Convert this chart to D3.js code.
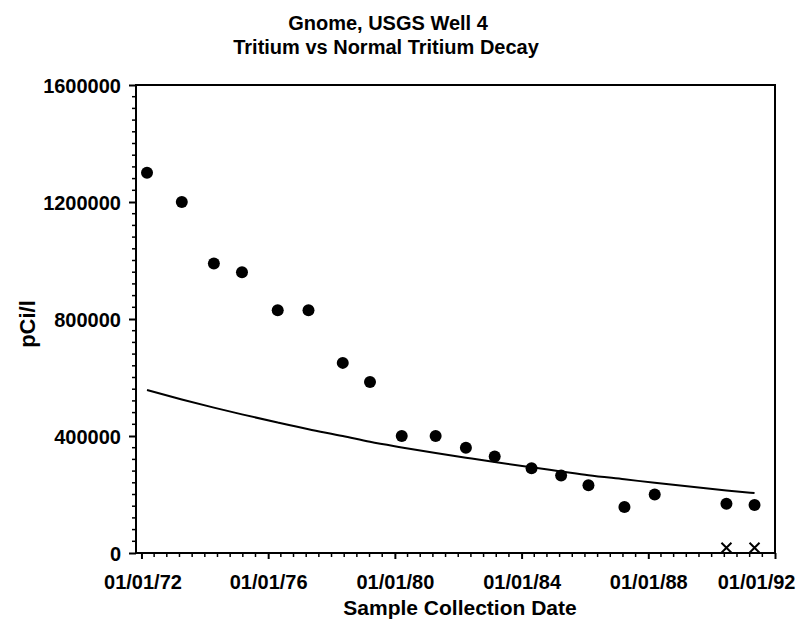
<!DOCTYPE html>
<html>
<head>
<meta charset="utf-8">
<script src="https://cdn.jsdelivr.net/npm/d3@7"></script>
<style>
    body { margin: 0; background: #fff; }
    text { font-family: "Liberation Sans", Arial, sans-serif; font-weight: bold; fill: #000; }
</style>
</head>
<body>
<div id="chart"></div>
<script>
const CANVAS_WIDTH = 800;
const CANVAS_HEIGHT = 624;
const LEFT = 136, RIGHT = 775, TOP = 85, BOTTOM = 553;

// sample dates and measured tritium (pCi/l)
const sampleDates = ["1972-03-05", "1973-04-10", "1974-04-15", "1975-03-05", "1976-04-20",
    "1977-04-10", "1978-05-10", "1979-03-20", "1980-03-20", "1981-04-15", "1982-03-30",
    "1983-02-25", "1984-04-25", "1985-04-01", "1986-02-10", "1987-04-01", "1988-03-15",
    "1990-06-20", "1991-05-10"];
const tritium = [1300000, 1200000, 990000, 960000, 830000, 830000, 650000, 585000,
    400000, 400000, 360000, 330000, 290000, 265000, 232000, 157000, 200000, 168000, 164000];
// normal decay curve values at the same dates
const decay = [557000, 525000, 497000, 474000, 446000, 423000, 400000, 380000, 361000,
    342000, 326000, 311000, 293000, 279000, 266000, 252000, 240000, 214000, 205000];
// second set of samples drawn with x markers
const lowDates = ["1990-06-20", "1991-05-10"];
const lowValues = [18000, 18000];

const yTicks = [0, 400000, 800000, 1200000, 1600000];
const xTickYears = [1972, 1976, 1980, 1984, 1988, 1992];

const parse = d3.timeParse("%Y-%m-%d");
const fmt = d3.timeFormat("%m/%d/%y");

var svg = d3.select("#chart")
    .append("svg")
    .attr("width", CANVAS_WIDTH)
    .attr("height", CANVAS_HEIGHT);

var x_scale = d3.scaleTime()
    .domain([new Date(1971, 9, 30), new Date(1992, 0, 1)])
    .range([LEFT, RIGHT]);

var y_scale = d3.scaleLinear()
    .domain([0, 1600000])
    .range([BOTTOM, TOP]);

// titles
svg.append("text")
    .attr("x", 388).attr("y", 30)
    .attr("text-anchor", "middle")
    .style("font-size", "20px")
    .text("Gnome, USGS Well 4");
svg.append("text")
    .attr("x", 386).attr("y", 54)
    .attr("text-anchor", "middle")
    .style("font-size", "20px")
    .text("Tritium vs Normal Tritium Decay");

// frame
svg.append("rect")
    .attr("x", LEFT).attr("y", TOP)
    .attr("width", RIGHT - LEFT).attr("height", BOTTOM - TOP)
    .attr("fill", "none").attr("stroke", "#000").attr("stroke-width", 2);

// y axis: major + minor ticks
var yMinor = d3.range(0, 1600001, 40000).filter((v) => v % 400000 !== 0);
svg.append("g")
    .selectAll("line")
    .data(yMinor)
    .enter()
    .append("line")
    .attr("x1", LEFT - 4).attr("x2", LEFT)
    .attr("y1", (d) => y_scale(d)).attr("y2", (d) => y_scale(d))
    .attr("stroke", "#000").attr("stroke-width", 1.5);

var yAxis = d3.axisLeft(y_scale)
    .tickValues(yTicks)
    .tickFormat(d3.format("d"))
    .tickSize(7)
    .tickPadding(8);
var gy = svg.append("g")
    .attr("transform", "translate(" + LEFT + ",0)")
    .call(yAxis);
gy.select(".domain").remove();
gy.selectAll(".tick line").attr("stroke-width", 2);
gy.selectAll(".tick text")
    .style("font-size", "20px")
    .style("font-family", "Liberation Sans, Arial, sans-serif")
    .style("font-weight", "bold")
    .attr("dy", "0.36em");

// x axis: major + minor ticks (9 minor between majors)
var xMajor = xTickYears.map((y) => new Date(y, 0, 1));
var xMinor = [];
for (var i = 0; i < xMajor.length - 1; i++) {
    var a = x_scale(xMajor[i]), b = x_scale(xMajor[i + 1]);
    for (var k = 1; k < 10; k++) xMinor.push(x_scale.invert(a + (b - a) * k / 10));
}
svg.append("g")
    .selectAll("line")
    .data(xMinor)
    .enter()
    .append("line")
    .attr("x1", (d) => x_scale(d)).attr("x2", (d) => x_scale(d))
    .attr("y1", BOTTOM).attr("y2", BOTTOM + 4)
    .attr("stroke", "#000").attr("stroke-width", 1.5);

var xAxis = d3.axisBottom(x_scale)
    .tickValues(xMajor)
    .tickFormat(fmt)
    .tickSize(6)
    .tickPadding(26);
var gx = svg.append("g")
    .attr("transform", "translate(0," + BOTTOM + ")")
    .call(xAxis);
gx.select(".domain").remove();
gx.selectAll(".tick line").attr("stroke-width", 2);
gx.selectAll(".tick text")
    .style("font-size", "20px")
    .style("font-family", "Liberation Sans, Arial, sans-serif")
    .style("font-weight", "bold")
    .attr("dy", "0.2em")
    .attr("text-anchor", (d, i) => i === xMajor.length - 1 ? "end" : "middle")
    .attr("dx", (d, i) => i === xMajor.length - 1 ? 20 : (i === 0 ? 1 : 0));

// axis labels
svg.append("text")
    .attr("x", 460).attr("y", 615)
    .attr("text-anchor", "middle")
    .style("font-size", "21px")
    .text("Sample Collection Date");
svg.append("text")
    .attr("transform", "translate(35,324) rotate(-90)")
    .attr("text-anchor", "middle")
    .style("font-size", "22px")
    .text("pCi/l");

// decay line
var pts = sampleDates.map((d, i) => ({ date: parse(d), v: tritium[i], decay: decay[i] }));
var line = d3.line()
    .x((d) => x_scale(d.date))
    .y((d) => y_scale(d.decay))
    .curve(d3.curveMonotoneX);
svg.append("path")
    .datum(pts)
    .attr("d", line)
    .attr("fill", "none")
    .attr("stroke", "#000")
    .attr("stroke-width", 2);

// measured samples
svg.selectAll("circle.sample")
    .data(pts)
    .enter()
    .append("circle")
    .attr("class", "sample")
    .attr("cx", (d) => x_scale(d.date))
    .attr("cy", (d) => y_scale(d.v))
    .attr("r", 6)
    .attr("fill", "#000");

// x markers
var lows = lowDates.map((d, i) => ({ date: parse(d), v: lowValues[i] }));
svg.selectAll("path.xmark")
    .data(lows)
    .enter()
    .append("path")
    .attr("class", "xmark")
    .attr("d", (d) => {
        var cx = x_scale(d.date), cy = y_scale(d.v), s = 5;
        return "M" + (cx - s) + "," + (cy - s) + "L" + (cx + s) + "," + (cy + s) +
            "M" + (cx - s) + "," + (cy + s) + "L" + (cx + s) + "," + (cy - s);
    })
    .attr("stroke", "#000")
    .attr("stroke-width", 2)
    .attr("fill", "none");
</script>
</body>
</html>
